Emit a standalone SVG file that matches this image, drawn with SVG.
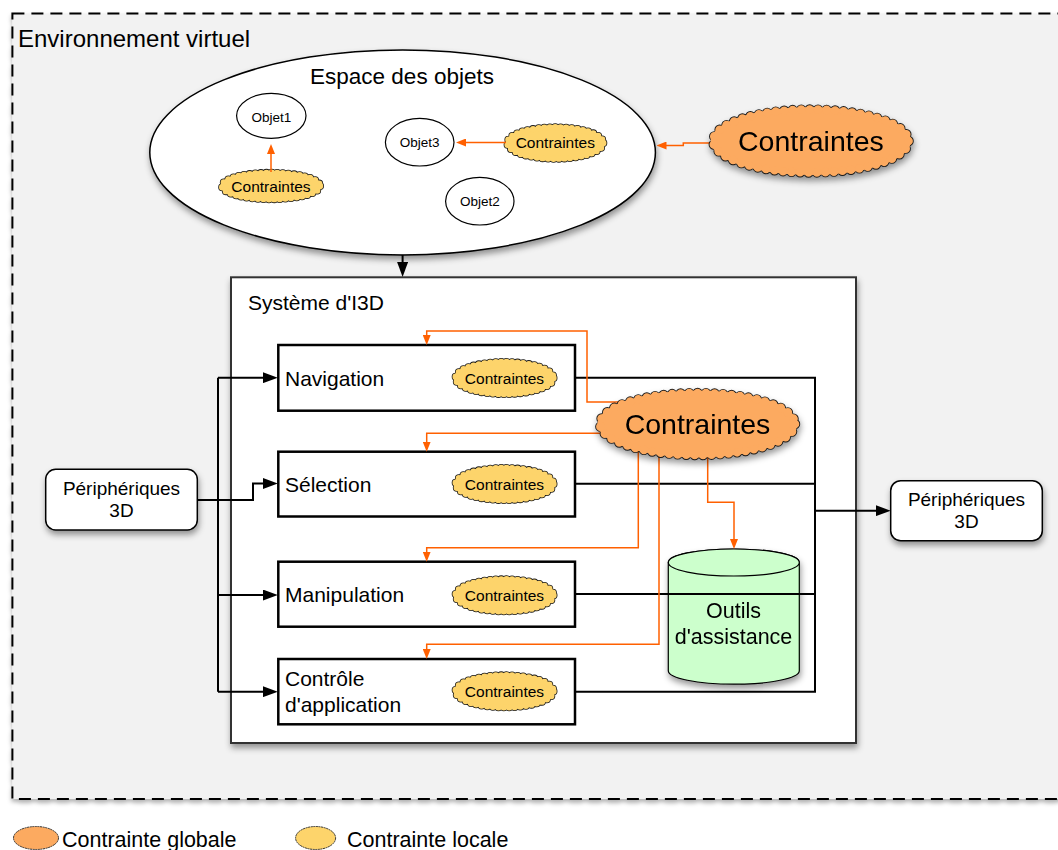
<svg xmlns="http://www.w3.org/2000/svg" width="1058" height="850" viewBox="0 0 1058 850">
<defs>
<style>
text{font-family:"Liberation Sans",Arial,Helvetica,sans-serif;fill:#000}
.c{text-anchor:middle}
.box{fill:#fff;stroke:#000;stroke-width:2.5}
.obj{fill:#fff;stroke:#000;stroke-width:1.2}
.ld{fill:none;stroke:#1a1a1a;stroke-width:8;stroke-dasharray:0 5.5;stroke-linecap:round}
.lf{fill:#fdd46b}
.lfd{fill:none;stroke:#fdd46b;stroke-width:6.4;stroke-dasharray:0 5.5;stroke-linecap:round}
.gd{fill:none;stroke:#1a1a1a;stroke-width:10.4;stroke-dasharray:0 8.5;stroke-linecap:round}
.gf{fill:#fcaa60}
.gfd{fill:none;stroke:#fcaa60;stroke-width:8.6;stroke-dasharray:0 8.5;stroke-linecap:round}
.ob{fill:none;stroke:#ff6000;stroke-width:1.5;marker-end:url(#ao)}
.bk{fill:none;stroke:#000;stroke-width:2}
.ba{marker-end:url(#ab)}
.lt{font-size:15.5px}
.gt{font-size:28.5px}
.bt{font-size:21px}
.ot{font-size:13.5px}
.pt{font-size:19px}
.per{fill:#fff;stroke:#000;stroke-width:1.5}
</style>
<filter id="sh" x="-15%" y="-15%" width="135%" height="150%"><feDropShadow dx="1" dy="4" stdDeviation="3" flood-color="#000" flood-opacity="0.4"/></filter>
<filter id="sh2" x="-5%" y="-5%" width="110%" height="110%"><feDropShadow dx="0" dy="3" stdDeviation="2" flood-color="#000" flood-opacity="0.3"/></filter>
<marker id="ab" markerUnits="userSpaceOnUse" markerWidth="15" markerHeight="11" refX="0.5" refY="5.5" orient="auto"><path d="M0,0 L15,5.5 L0,11 Z" fill="#000"/></marker>
<marker id="ao" markerUnits="userSpaceOnUse" markerWidth="10" markerHeight="8" refX="0.5" refY="4" orient="auto"><path d="M0,0 L10,4 L0,8 Z" fill="#ff6000"/></marker>
</defs>

<g id="environnement">
<rect x="12.4" y="13.4" width="1070" height="785.5" fill="#f2f2f2" stroke="#000" stroke-width="2" stroke-dasharray="12 7" filter="url(#sh2)"/>
<text x="18" y="46.5" style="font-size:24px">Environnement virtuel</text>
</g>

<g id="espace-objets">
<ellipse cx="402.6" cy="152.4" rx="252.8" ry="102.5" fill="#fff" stroke="#000" stroke-width="1.5" filter="url(#sh)"/>
<text class="c" x="402" y="83.7" style="font-size:22.5px">Espace des objets</text>
</g>

<g id="objet1">
<ellipse class="obj" cx="271.3" cy="115.8" rx="34.7" ry="22.5"/>
<text class="c ot" x="271.3" y="122.3">Objet1</text>
</g>
<g id="objet3">
<ellipse class="obj" cx="419.7" cy="142.2" rx="34.3" ry="23.8"/>
<text class="c ot" x="419.7" y="147.3">Objet3</text>
</g>
<g id="objet2">
<ellipse class="obj" cx="479.8" cy="201.2" rx="34.2" ry="23.8"/>
<text class="c ot" x="479.8" y="205.5">Objet2</text>
</g>

<g id="contrainte-locale-objet1">
<ellipse class="ld" cx="271" cy="186" rx="49" ry="13.2"/>
<ellipse class="lf" cx="271" cy="186" rx="50.5" ry="14.7"/>
<ellipse class="lfd" cx="271" cy="186" rx="49" ry="13.2"/>
<text class="c lt" x="271" y="191.6">Contraintes</text>
</g>
<g id="contrainte-locale-objet3">
<ellipse class="ld" cx="555.3" cy="143" rx="48" ry="15.7"/>
<ellipse class="lf" cx="555.3" cy="143" rx="49.5" ry="17.2"/>
<ellipse class="lfd" cx="555.3" cy="143" rx="48" ry="15.7"/>
<text class="c lt" x="555.3" y="148.4">Contraintes</text>
</g>

<g id="systeme-i3d">
<rect x="231" y="277.3" width="625" height="465.7" fill="#fff" stroke="#333" stroke-width="2" filter="url(#sh)"/>
<text x="248" y="310" style="font-size:21px">Système d'I3D</text>
</g>

<g id="navigation">
<rect class="box" x="278.3" y="345" width="296.7" height="65.7"/>
<text class="bt" x="285" y="386">Navigation</text>
<ellipse class="ld" cx="504.5" cy="378" rx="49" ry="16"/>
<ellipse class="lf" cx="504.5" cy="378" rx="50.5" ry="17.5"/>
<ellipse class="lfd" cx="504.5" cy="378" rx="49" ry="16"/>
<text class="c lt" x="504.5" y="383.5">Contraintes</text>
</g>
<g id="selection">
<rect class="box" x="278.3" y="451.7" width="296.7" height="64.8"/>
<text class="bt" x="285" y="491.7">Sélection</text>
<ellipse class="ld" cx="504.5" cy="484" rx="49" ry="16"/>
<ellipse class="lf" cx="504.5" cy="484" rx="50.5" ry="17.5"/>
<ellipse class="lfd" cx="504.5" cy="484" rx="49" ry="16"/>
<text class="c lt" x="504.5" y="489.5">Contraintes</text>
</g>
<g id="manipulation">
<rect class="box" x="278.3" y="561.7" width="296.7" height="65"/>
<text class="bt" x="285" y="601.7">Manipulation</text>
<ellipse class="ld" cx="504.5" cy="595.3" rx="49" ry="16"/>
<ellipse class="lf" cx="504.5" cy="595.3" rx="50.5" ry="17.5"/>
<ellipse class="lfd" cx="504.5" cy="595.3" rx="49" ry="16"/>
<text class="c lt" x="504.5" y="600.8">Contraintes</text>
</g>
<g id="controle-application">
<rect class="box" x="278.3" y="659" width="296.7" height="65.3"/>
<text class="bt" x="285" y="686">Contrôle</text>
<text class="bt" x="285" y="711.7">d'application</text>
<ellipse class="ld" cx="504.5" cy="691.3" rx="49" ry="16"/>
<ellipse class="lf" cx="504.5" cy="691.3" rx="50.5" ry="17.5"/>
<ellipse class="lfd" cx="504.5" cy="691.3" rx="49" ry="16"/>
<text class="c lt" x="504.5" y="696.8">Contraintes</text>
</g>

<g id="outils-assistance" filter="url(#sh)">
<path d="M668.3,562.5 V670.7 A65.5,13.5 0 0 0 799.3,670.7 V562.5 A65.5,13.5 0 0 0 668.3,562.5 Z" fill="#ccffcc" stroke="#000" stroke-width="1.2"/>
<ellipse cx="733.8" cy="562.5" rx="65.5" ry="13.5" fill="#ccffcc" stroke="#000" stroke-width="1.2"/>
<text class="c" x="733.5" y="618.3" style="font-size:21.5px">Outils</text>
<text class="c" x="733.5" y="644.3" style="font-size:21.5px">d'assistance</text>
</g>

<g id="peripheriques-entree">
<rect class="per" x="45.7" y="469.3" width="151.6" height="60.7" rx="10" filter="url(#sh)"/>
<text class="c pt" x="121.5" y="495">Périphériques</text>
<text class="c pt" x="121.5" y="516.7">3D</text>
</g>
<g id="peripheriques-sortie">
<rect class="per" x="890.7" y="480.7" width="151.6" height="60" rx="10" filter="url(#sh)"/>
<text class="c pt" x="966.5" y="506">Périphériques</text>
<text class="c pt" x="966.5" y="528.3">3D</text>
</g>

<g id="connecteurs">
<path class="bk ba" d="M402.6,254.8 V262.5"/>
<path class="bk" d="M197.3,500 H218 M218,377.7 V691.7"/>
<path class="bk ba" d="M218,377.7 H263.3"/>
<path class="bk ba" d="M197.3,500 H253 V483.5 H263.3"/>
<path class="bk ba" d="M218,595 H263.3"/>
<path class="bk ba" d="M218,691.7 H263.3"/>
<path class="bk" d="M575,377.7 H815 V691.7 H575 M575,483.7 H815 M575,594 H815"/>
<path class="bk ba" d="M815,510.7 H876.2"/>
<path class="ob" d="M271,172 V153.5"/>
<path class="ob" d="M506,142.5 H465.5"/>
<path class="ob" d="M715,143 H683.3 V145.5 H666"/>
<path class="ob" d="M630,402 H587 V331 H426.7 V335.5"/>
<path class="ob" d="M610,433.3 H426.7 V442.2"/>
<path class="ob" d="M638.3,445 V547.7 H426.7 V552.2"/>
<path class="ob" d="M659,450 V644.3 H426.7 V649.5"/>
<path class="ob" d="M707.7,450 V502.3 H734 V539.5"/>
</g>

<g id="contrainte-globale-espace" filter="url(#sh)">
<ellipse class="gd" cx="810.9" cy="141" rx="97.7" ry="31.5"/>
<ellipse class="gf" cx="810.9" cy="141" rx="100.2" ry="34"/>
<ellipse class="gfd" cx="810.9" cy="141" rx="97.7" ry="31.5"/>
<text class="c gt" x="810.9" y="151">Contraintes</text>
</g>
<g id="contrainte-globale-systeme" filter="url(#sh)">
<ellipse class="gd" cx="697.5" cy="424" rx="97.5" ry="31"/>
<ellipse class="gf" cx="697.5" cy="424" rx="100" ry="33.5"/>
<ellipse class="gfd" cx="697.5" cy="424" rx="97.5" ry="31"/>
<text class="c gt" x="697.5" y="434">Contraintes</text>
</g>

<g id="legende">
<ellipse cx="36" cy="838" rx="22.5" ry="11.5" fill="#fcaa60" stroke="#333" stroke-width="1" stroke-dasharray="2 0.6"/>
<text x="62" y="847" style="font-size:21.5px">Contrainte globale</text>
<ellipse cx="315.6" cy="838" rx="20" ry="11.5" fill="#fdd46b" stroke="#333" stroke-width="1" stroke-dasharray="2 0.6"/>
<text x="347" y="847" style="font-size:21.5px">Contrainte locale</text>
</g>
</svg>
